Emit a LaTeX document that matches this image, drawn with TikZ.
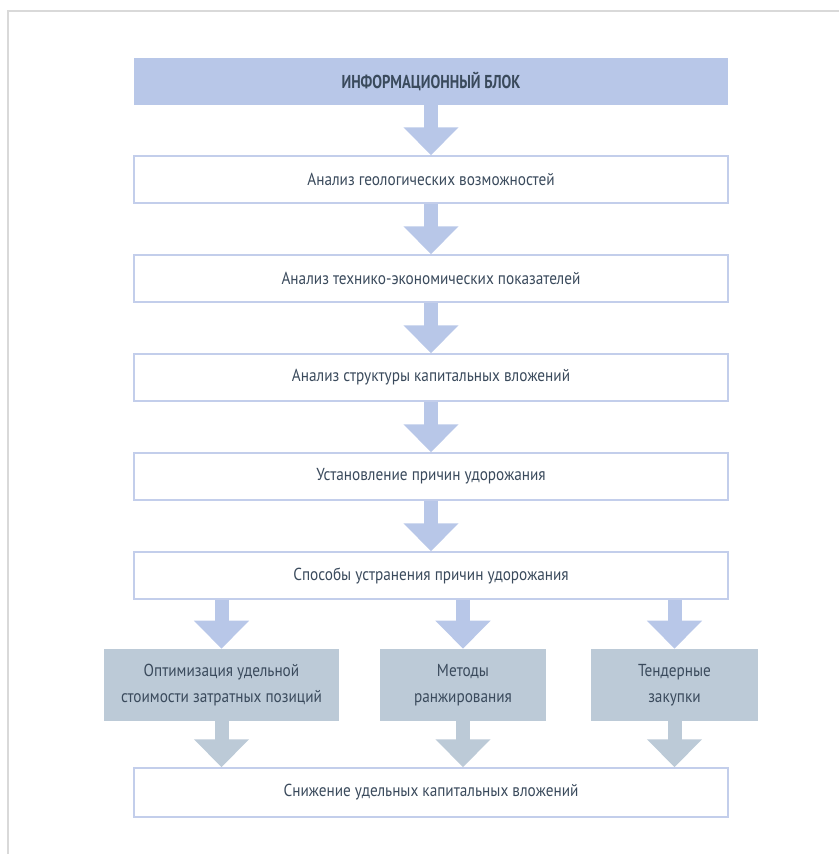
\documentclass[tikz,border=0pt]{standalone}
\usepackage{fontspec}
\setmainfont{PT Sans}[FakeStretch=0.88]
\newfontfamily\hdrfont{PT Sans}[FakeStretch=0.78]
\usetikzlibrary{arrows.meta}

\definecolor{flowblue}{HTML}{B8C7E8}
\definecolor{boxline}{HTML}{C3CEEB}
\definecolor{slate}{HTML}{BCCAD7}
\definecolor{txt}{HTML}{3A4A5C}
\definecolor{frame}{HTML}{D9D9D9}

\begin{document}
\begin{tikzpicture}[x=0.75pt, y=-0.75pt,
  every node/.style={font=\fontsize{13}{19.5}\selectfont, text=txt, inner sep=0pt},
  wide/.style={draw=boxline, line width=1.1pt, fill=white,
    minimum width=445.5pt, minimum height=35.25pt},
  hdr/.style={fill=flowblue, minimum width=445.5pt, minimum height=35.25pt,
    font=\hdrfont\bfseries\fontsize{14}{16}\selectfont},
  gbox/.style={fill=slate, minimum height=54pt, align=center},
  flow/.style={draw=flowblue, line width=10.5pt,
    -{Triangle[width=40pt,length=21pt]}},
  gflow/.style={flow, draw=slate}]
  \useasboundingbox (0,0) rectangle (839,854);

  % frame
  \draw[frame, line width=1.5pt] (8,854) -- (8,11) -- (839,11);

  % main column
  \node[hdr]  (info) at (431,81.5)  {ИНФОРМАЦИОННЫЙ БЛОК};
  \node[wide] (geo)  at (431,179.5) {Анализ геологических возможностей};
  \node[wide] (tep)  at (431,278.5) {Анализ технико-экономических показателей};
  \node[wide] (cap)  at (431,377.5) {Анализ структуры капитальных вложений};
  \node[wide] (why)  at (431,476.5) {Установление причин удорожания};
  \node[wide] (ways) at (431,575.5) {Способы устранения причин удорожания};

  % three ways
  \node[gbox, minimum width=176.25pt] (opt)  at (221.5,685)
    {Оптимизация удельной\\стоимости затратных позиций};
  \node[gbox, minimum width=124.5pt]  (rank) at (463,685)
    {Методы\\ранжирования};
  \node[gbox, minimum width=125.25pt] (tend) at (674.5,685)
    {Тендерные\\закупки};

  % result
  \node[wide, minimum height=36.75pt] (res) at (431,792.5)
    {Снижение удельных капитальных вложений};

  % arrows
  \draw[flow] (info) -- (geo);
  \draw[flow] (geo) -- (tep);
  \draw[flow] (tep) -- (cap);
  \draw[flow] (cap) -- (why);
  \draw[flow] (why) -- (ways);
  \foreach \g in {opt,rank,tend} {
    \draw[flow] (\g.north |- ways.south) -- (\g.north);
    \draw[gflow] (\g.south) -- (\g.south |- res.north);
  }
\end{tikzpicture}
\end{document}
